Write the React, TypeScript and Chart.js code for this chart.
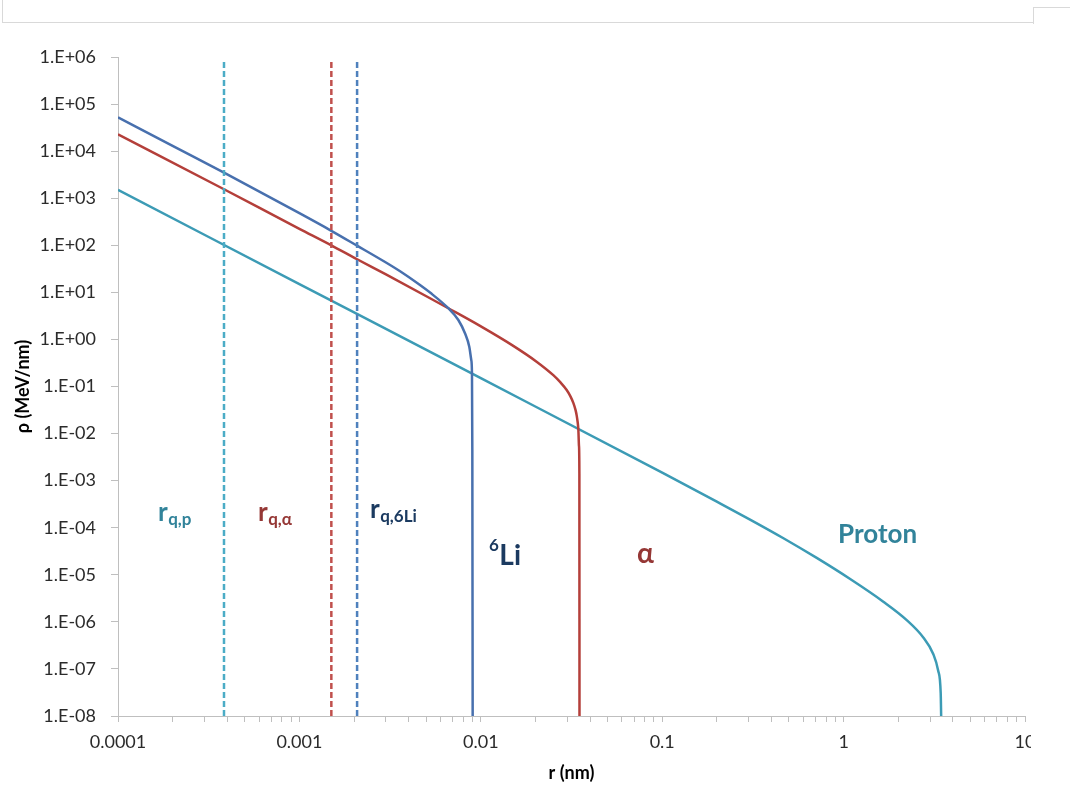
import React, { useEffect, useRef } from 'react';
import { Chart, registerables } from 'chart.js';

Chart.register(...registerables);

// Radial dose profiles ρ(r) for 6Li, alpha and proton tracks
const LI_R = [1e-4, 2e-4, 3.84e-4, 1e-3, 1.5e-3, 2.08e-3, 3e-3, 3.59e-3, 4.5e-3, 5.25e-3, 6.62e-3, 7.52e-3, 8.18e-3, 8.64e-3, 8.86e-3, 8.94e-3, 8.98e-3, 9.02e-3];
const LI_RHO = [5.24e4, 1.29e4, 3.48e3, 480, 203, 98, 43, 28, 15.4, 9.9, 4.6, 2.59, 1.35, 0.7, 0.365, 0.19, 4.5e-3, 1e-8];

const ALPHA_R = [1e-4, 3.84e-4, 1e-3, 1.5e-3, 2.08e-3, 3e-3, 5.25e-3, 6.62e-3, 9.9e-3, 0.0151, 0.0203, 0.0251, 0.0275, 0.02975, 0.0312, 0.0324, 0.0333, 0.0338, 0.0342, 0.0345, 0.03478, 0.03495, 0.035];
const ALPHA_RHO = [2.28e4, 1.55e3, 224, 100, 50.5, 24, 7.5, 4.6, 1.94, 0.73, 0.337, 0.174, 0.122, 0.0841, 0.0618, 0.0445, 0.0315, 0.0238, 0.0174, 0.0121, 5.4e-3, 1.4e-3, 1e-8];

const PROTON_R = [1e-4, 1e-3, 0.01, 0.1, 0.2, 0.305, 0.466, 0.711, 1.087, 1.656, 2.228, 2.75, 3.12, 3.32, 3.43, 3.45];
const PROTON_RHO = [1.5e3, 15, 0.15, 1.48e-3, 3.58e-4, 1.49e-4, 5.98e-5, 2.28e-5, 8.13e-6, 2.68e-6, 1.09e-6, 4.66e-7, 2.08e-7, 9.25e-8, 3.06e-8, 1e-8];

// Core radii r_q (vertical dashed markers)
const R_Q_P = 3.84e-4;
const R_Q_ALPHA = 1.5e-3;
const R_Q_LI = 2.08e-3;
const MARKER_SPAN = [1e-8, 7.8e5];

// Axis ticks
const Y_DECADES = [1e6, 1e5, 1e4, 1e3, 1e2, 1e1, 1, 1e-1, 1e-2, 1e-3, 1e-4, 1e-5, 1e-6, 1e-7, 1e-8];
const X_DECADES = [1e-4, 1e-3, 1e-2, 1e-1, 1, 10];
const X_TICK_LABELS = ['0.0001', '0.001', '0.01', '0.1', '1', '10'];

const FONT = 'Lato, "Open Sans", sans-serif';
const AXIS_GRAY = '#bfbfbf';
const TICK_TEXT = '#2b2b2b';

const LI_COLOR = '#4870ae';
const ALPHA_COLOR = '#b43f3a';
const PROTON_COLOR = '#3c9bb5';
const LI_TEXT = '#1b3a60';
const ALPHA_TEXT = '#953735';
const PROTON_TEXT = '#31839a';

const zip = (xs: number[], ys: number[]) => xs.map((x, i) => ({ x, y: ys[i] }));

function yLabel(v: number) {
  const e = Math.round(Math.log10(v));
  return `1.E${e < 0 ? '-' : '+'}${String(Math.abs(e)).padStart(2, '0')}`;
}

const labelsPlugin = {
  id: 'trackLabels',
  afterDatasetsDraw(chart: any) {
    const ctx: CanvasRenderingContext2D = chart.ctx;
    ctx.save();
    ctx.textAlign = 'left';
    ctx.textBaseline = 'alphabetic';
    const withSub = (x: number, y: number, main: string, sub: string, color: string) => {
      ctx.fillStyle = color;
      ctx.font = `bold 26px ${FONT}`;
      ctx.fillText(main, x, y);
      const w = ctx.measureText(main).width;
      ctx.font = `bold 17px ${FONT}`;
      ctx.fillText(sub, x + w + 0.5, y + 4);
    };
    withSub(158, 521, 'r', 'q,p', PROTON_TEXT);
    withSub(258, 521, 'r', 'q,α', ALPHA_TEXT);
    withSub(370, 518, 'r', 'q,6Li', LI_TEXT);

    ctx.fillStyle = LI_TEXT;
    ctx.font = `bold 17px ${FONT}`;
    ctx.fillText('6', 489, 551);
    const sw = ctx.measureText('6').width;
    ctx.font = `bold 28px ${FONT}`;
    ctx.fillText('Li', 489 + sw + 0.5, 565);

    ctx.fillStyle = ALPHA_TEXT;
    ctx.font = `bold 28px ${FONT}`;
    ctx.fillText('α', 637, 563);

    ctx.fillStyle = PROTON_TEXT;
    ctx.font = `bold 26px ${FONT}`;
    ctx.fillText('Proton', 838, 543);
    ctx.restore();
  },
};

export default function App() {
  const canvasRef = useRef<HTMLCanvasElement | null>(null);

  useEffect(() => {
    if (!canvasRef.current) return;
    const solid = (label: string, xs: number[], ys: number[], color: string) => ({
      label,
      data: zip(xs, ys),
      borderColor: color,
      backgroundColor: color,
      borderWidth: 2.5,
      pointRadius: 0,
      cubicInterpolationMode: 'monotone' as const,
      fill: false,
    });
    const dashed = (label: string, r: number, color: string) => ({
      label,
      data: MARKER_SPAN.map((y) => ({ x: r, y })),
      borderColor: color,
      backgroundColor: color,
      borderWidth: 2.5,
      borderDash: [6, 3],
      pointRadius: 0,
      fill: false,
    });

    const chart = new Chart(canvasRef.current, {
      type: 'line',
      data: {
        datasets: [
          dashed('r_q,p', R_Q_P, '#4bacc6'),
          dashed('r_q,α', R_Q_ALPHA, '#c0504d'),
          dashed('r_q,6Li', R_Q_LI, '#4f81bd'),
          solid('6Li', LI_R, LI_RHO, LI_COLOR),
          solid('α', ALPHA_R, ALPHA_RHO, ALPHA_COLOR),
          solid('Proton', PROTON_R, PROTON_RHO, PROTON_COLOR),
        ],
      },
      options: {
        animation: false,
        responsive: false,
        devicePixelRatio: 1,
        layout: { padding: { top: 57, bottom: 0, left: 0, right: 6 } },
        plugins: {
          legend: { display: false },
          tooltip: { enabled: false },
        },
        scales: {
          x: {
            type: 'logarithmic',
            min: 1e-4,
            max: 10,
            afterBuildTicks: (scale: any) => {
              const ticks: any[] = [];
              X_DECADES.forEach((d, i) => {
                ticks.push({ value: d, lbl: X_TICK_LABELS[i] });
                if (i < X_DECADES.length - 1) {
                  for (let k = 2; k <= 9; k++) ticks.push({ value: d * k, lbl: '' });
                }
              });
              scale.ticks = ticks;
            },
            afterFit: (scale: any) => {
              scale.height = 73;
              scale.paddingLeft = 0;
              scale.paddingRight = 0;
            },
            ticks: {
              autoSkip: false,
              maxRotation: 0,
              minRotation: 0,
              padding: 9,
              color: TICK_TEXT,
              font: { family: FONT, size: 18 },
              callback: (_v: any, i: number, ticks: any[]) => ticks[i].lbl,
            },
            grid: {
              display: true,
              drawOnChartArea: false,
              drawTicks: true,
              tickLength: 6,
              color: AXIS_GRAY,
            },
            border: { display: true, color: AXIS_GRAY, width: 1 },
            title: {
              display: true,
              text: 'r (nm)',
              color: '#000',
              font: { family: FONT, size: 18, weight: 'bold' },
              padding: { top: 0, bottom: 5 },
            },
          },
          y: {
            type: 'logarithmic',
            min: 1e-8,
            max: 1e6,
            afterBuildTicks: (scale: any) => {
              scale.ticks = Y_DECADES.slice().reverse().map((v) => ({ value: v }));
            },
            afterFit: (scale: any) => {
              scale.width = 118;
              scale.paddingTop = 0;
              scale.paddingBottom = 0;
            },
            ticks: {
              autoSkip: false,
              padding: 15,
              color: TICK_TEXT,
              font: { family: FONT, size: 18 },
              callback: (v: any) => yLabel(Number(v)),
            },
            grid: {
              display: true,
              drawOnChartArea: false,
              drawTicks: true,
              tickLength: 7,
              color: AXIS_GRAY,
            },
            border: { display: true, color: AXIS_GRAY, width: 1 },
            title: {
              display: true,
              text: 'ρ (MeV/nm)',
              color: '#000',
              font: { family: FONT, size: 18, weight: 'bold' },
              padding: { top: 12, bottom: 0 },
            },
          },
        },
      } as any,
      plugins: [labelsPlugin],
    });
    return () => chart.destroy();
  }, []);

  return (
    <div style={{ position: 'absolute', left: 0, top: 0, width: 1070, height: 789, background: '#fff' }}>
      <div
        style={{
          position: 'absolute',
          left: 2,
          top: -1,
          width: 1031,
          height: 23,
          borderLeft: '1px solid #d9d9d9',
          borderBottom: '1px solid #d9d9d9',
        }}
      />
      <div
        style={{
          position: 'absolute',
          left: 1033,
          top: 7,
          width: 40,
          height: 16,
          borderLeft: '1px solid #d9d9d9',
          borderTop: '1px solid #d9d9d9',
        }}
      />
      <canvas
        ref={canvasRef}
        width={1031}
        height={789}
        style={{ position: 'absolute', left: 0, top: 0, width: 1031, height: 789 }}
      />
    </div>
  );
}
